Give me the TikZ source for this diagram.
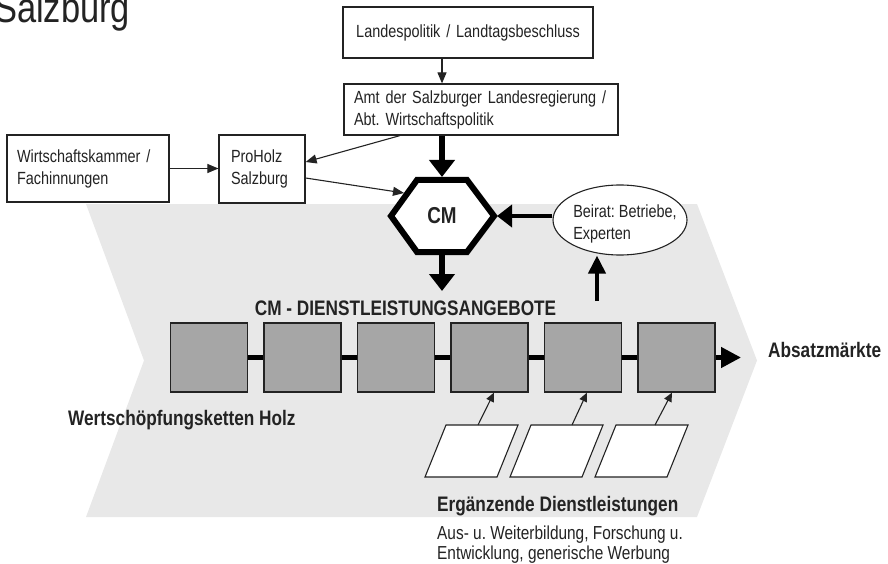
\documentclass[tikz,border=0pt]{standalone}
\usepackage{fontspec}
\setmainfont{Liberation Sans}
\newfontfamily\narrowfont{Liberation Sans}[FakeStretch=0.82]
\usetikzlibrary{shapes.geometric,arrows.meta,calc}

\definecolor{chevgray}{RGB}{232,232,232}
\definecolor{stepgray}{RGB}{166,166,166}
\definecolor{ink}{RGB}{35,35,35}

% narrow faces: the interword space is narrowed along with the glyphs
\newcommand{\narrowspace}{\spaceskip=0.228em plus 0.1em minus 0.05em\relax}
\newcommand{\regtext}{\narrowfont\frenchspacing\fontsize{17.6}{22}\selectfont\narrowspace}
\newcommand{\boldtext}{\narrowfont\bfseries\fontsize{21}{24}\selectfont\narrowspace}
\newcommand{\smalltext}{\narrowfont\frenchspacing\fontsize{18.8}{19.5}\selectfont\narrowspace}

\begin{document}
\begin{tikzpicture}[x=1pt,y=-1pt,
  every node/.style={text=ink},
  infobox/.style={draw=ink, line width=1.2pt, fill=white, font=\regtext, align=left},
  stepbox/.style={draw=ink, line width=1.2pt, fill=stepgray,
    minimum width=77pt, minimum height=69pt, inner sep=0pt},
  thin arrow/.style={draw=ink, line width=1.1pt, -{Triangle[length=11pt,width=9pt]}},
  small arrow/.style={draw=ink, line width=1.1pt, -{Triangle[length=9pt,width=8pt]}},
  big arrow/.style={draw=black, line width=6.5pt, -{Triangle[length=17pt,width=25pt]}},
  side arrow/.style={draw=black, line width=4.5pt, -{Triangle[length=15pt,width=22pt]}},
  up arrow/.style={draw=black, line width=4pt, -{Triangle[length=18pt,width=17pt]}},
  chain/.style={draw=black, line width=4.5pt},
  addon/.style={draw=ink, line width=1.1pt, fill=white, line join=miter},
  label/.style={inner sep=0pt}
]
\useasboundingbox (0,0) rectangle (888,564);

% value-chain chevron in the background
\fill[chevgray] (86,204) -- (697,204) -- (757,360.5) -- (697,517)
  -- (86,517) -- (144,360.5) -- cycle;

% title
\node[label, font=\narrowfont\fontsize{42}{42}\selectfont, anchor=base west]
  (title) at (-6,23) {Salzburg};

% political and institutional boxes
\node[infobox, minimum width=250pt, minimum height=51pt, align=center,
  inner xsep=5pt, text width=240pt]
  (lp) at (468,32.5) {Landespolitik / Landtagsbeschluss};
\node[infobox, minimum width=274pt, minimum height=51pt, inner xsep=10pt, text width=254pt]
  (amt) at (481,109.5) {Amt der Salzburger Landesregierung /\\Abt. Wirtschaftspolitik};
\node[infobox, minimum width=162pt, minimum height=67pt, inner xsep=10pt, text width=142pt]
  (wk) at (88,168.5) {Wirtschaftskammer /\\Fachinnungen};
\node[infobox, minimum width=86pt, minimum height=68pt, inner xsep=12pt, text width=62pt]
  (proholz) at (262,169) {ProHolz\\Salzburg};

% cluster management hexagon
\draw[black, line width=6pt, line join=miter, fill=white]
  (391,216) -- (417,180) -- (467,180) -- (494,216) -- (467,252) -- (417,252) -- cycle;
\node[label, font=\narrowfont\bfseries\fontsize{23}{23}\selectfont] (cm) at (442,216) {CM};
\coordinate (cmT) at (442,177);
\coordinate (cmB) at (442,255);
\coordinate (cmR) at (497,216);
\coordinate (cmUL) at (404,193);
\coordinate (cmdown) at (442,291);

% advisory board
\node[draw=ink, line width=1.1pt, fill=white, ellipse, minimum width=134pt,
  minimum height=70pt, inner sep=0pt] (beirat) at (620,220) {};
\node[label, font=\regtext, align=left] (beirattxt) at (625,224) {Beirat: Betriebe,\\Experten};
\coordinate (upfoot) at (597,301);

% service offers along the value chain
\node[label, font=\boldtext, anchor=base] (offers) at (405.5,315) {CM - DIENSTLEISTUNGSANGEBOTE};
\foreach \i/\x in {1/209,2/302.5,3/396,4/489.5,5/583,6/676.5}
  \node[stepbox] (s\i) at (\x,357.5) {};
\foreach \a/\b in {1/2,2/3,3/4,4/5,5/6}
  \draw[chain] (s\a.east) -- (s\b.west);
\coordinate (market) at (741,357.5);
\draw[chain, -{Triangle[length=20pt,width=20pt]}] (s6.east) -- (market);
\node[label, font=\boldtext, anchor=base west] (markets) at (768,357) {Absatzmärkte};
\node[label, font=\boldtext, anchor=base west] (chains) at (68,425) {Wertschöpfungsketten Holz};

% complementary services
\foreach \x in {425,510,595}
  \draw[addon] (\x,477) -- ++(72,0) -- ++(21,-52) -- ++(-72,0) -- cycle;
\coordinate (e1) at (478,425);
\coordinate (e2) at (572,425);
\coordinate (e3) at (655,425);
\draw[small arrow] (e1) -- ([xshift=4.5pt]s4.south);
\draw[small arrow] (e2) -- ([xshift=4pt]s5.south);
\draw[small arrow] (e3) -- ([xshift=-4.5pt]s6.south);
\node[label, font=\boldtext, anchor=base west] (extra) at (437,511) {Ergänzende Dienstleistungen};
\node[label, font=\smalltext, anchor=north west, align=left] (extradesc) at (437,526)
  {Aus- u. Weiterbildung, Forschung u.\\Entwicklung, generische Werbung};

% connectors
\draw[thin arrow] (lp.south -| cm) -- (amt.north -| cm);
\draw[big arrow] (amt.south -| cm) -- (cmT);
\draw[thin arrow] ([xshift=-81pt]amt.south) -- ([yshift=7pt]proholz.east);
\draw[thin arrow] ([yshift=-9pt]proholz.east) -- (cmUL);
\draw[thin arrow] (wk.east) -- (wk.east -| proholz.west);
\draw[side arrow] (beirat.west |- cmR) -- (cmR);
\draw[up arrow] (upfoot) -- (upfoot |- beirat.south);
\draw[big arrow] (cmB) -- (cmdown);
\end{tikzpicture}
\end{document}
